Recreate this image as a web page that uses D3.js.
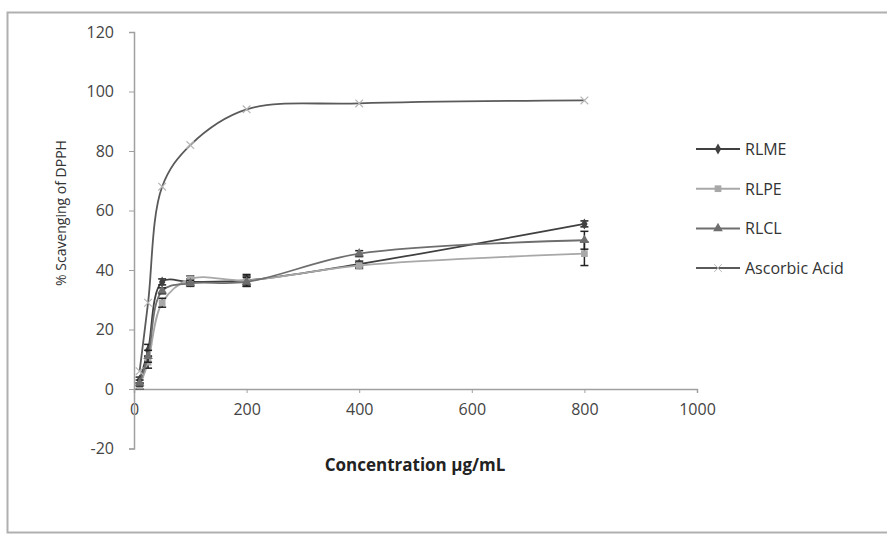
<!DOCTYPE html>
<html>
<head>
<meta charset="utf-8">
<script src="https://cdn.jsdelivr.net/npm/d3@7"></script>
<style>
    body { margin: 0; background: #fff; }
    #chart { width: 887px; height: 535px; }
</style>
</head>
<body>
<div id="chart"></div>
<script>
// concentrations (µg/mL)
var concentrations = [10, 25, 50, 100, 200, 400, 800];

var rlme = [3, 13, 36, 36, 36.5, 42, 55.5];
var rlpe = [1, 9, 29, 37, 36.5, 41.5, 45.5];
var rlcl = [2, 11, 33, 35.5, 36, 45.5, 50];
var ascorbic = [6, 29, 68, 82, 94, 96, 97];

var rlmeErr = [1, 2, 1, 1, 2, 1, 1];
var rlpeErr = [1, 2, 1.5, 1, 1.5, 1, 4];
var rlclErr = [1, 2, 1, 1, 1.5, 1, 3];

var xTicks = [0, 200, 400, 600, 800, 1000];
var yTicks = [-20, 0, 20, 40, 60, 80, 100, 120];

var seriesNames = ["RLME", "RLPE", "RLCL", "Ascorbic Acid"];

Chart = function(_parentElement) {
    this.parentElement = _parentElement;
    this.initVis();
};

Chart.prototype.initVis = function() {
    var vis = this;

    vis.width = 887;
    vis.height = 535;

    vis.svg = d3.select("#" + vis.parentElement)
        .append("svg")
        .attr("width", vis.width)
        .attr("height", vis.height)
        .style("font-family", "'Open Sans', sans-serif");

    // outer frame
    vis.svg.append("rect")
        .attr("x", 7.5)
        .attr("y", 12.5)
        .attr("width", 900)
        .attr("height", 520)
        .attr("fill", "none")
        .attr("stroke", "#b0b0b0")
        .attr("stroke-width", 2);

    vis.x = d3.scaleLinear().domain([0, 1000]).range([134, 697]);
    vis.y = d3.scaleLinear().domain([-20, 120]).range([448.5, 32]);

    vis.series = [
        { name: seriesNames[0], values: rlme, err: rlmeErr, color: "#404040", symbol: d3.symbolDiamond, size: 35, markColor: "#404040" },
        { name: seriesNames[1], values: rlpe, err: rlpeErr, color: "#a8a8a8", symbol: d3.symbolSquare, size: 45, markColor: "#a8a8a8" },
        { name: seriesNames[2], values: rlcl, err: rlclErr, color: "#6e6e6e", symbol: d3.symbolTriangle, size: 40, markColor: "#6e6e6e" },
        { name: seriesNames[3], values: ascorbic, err: null, color: "#5a5a5a", symbol: d3.symbolX, size: 40, markColor: "#b5b5b5" }
    ];

    vis.drawAxes();
    vis.drawSeries();
    vis.drawLegend();
};

Chart.prototype.drawAxes = function() {
    var vis = this;

    var xAxis = d3.axisBottom(vis.x)
        .tickValues(xTicks)
        .tickFormat(function(d) { return String(d); })
        .tickSize(4)
        .tickPadding(11);

    var yAxis = d3.axisLeft(vis.y)
        .tickValues(yTicks)
        .tickFormat(function(d) { return String(d); })
        .tickSize(5)
        .tickPadding(15);

    var gx = vis.svg.append("g")
        .attr("transform", `translate(0,${vis.y(0)})`)
        .call(xAxis);

    var gy = vis.svg.append("g")
        .attr("transform", `translate(${vis.x(0)},0)`)
        .call(yAxis);

    [gx, gy].forEach(function(g) {
        g.select(".domain").attr("stroke", "#a0a0a0").attr("stroke-width", 1.5);
        g.selectAll(".tick line").attr("stroke", "#a0a0a0");
        g.selectAll(".tick text")
            .attr("fill", "#444")
            .attr("font-size", "16px")
            .style("font-family", "'Open Sans', sans-serif");
    });

    // axis titles
    vis.svg.append("text")
        .attr("x", 415)
        .attr("y", 471)
        .attr("text-anchor", "middle")
        .attr("font-size", "17px")
        .attr("font-weight", "bold")
        .attr("fill", "#222")
        .text("Concentration µg/mL");

    vis.svg.append("text")
        .attr("transform", "translate(66,213) rotate(-90)")
        .attr("text-anchor", "middle")
        .attr("font-size", "14px")
        .attr("fill", "#333")
        .text("% Scavenging of DPPH");
};

Chart.prototype.drawSeries = function() {
    var vis = this;

    var line = d3.line()
        .x(function(d, i) { return vis.x(concentrations[i]); })
        .y(function(d) { return vis.y(d); })
        .curve(d3.curveCatmullRom.alpha(0.5));

    vis.series.forEach(function(s) {
        var g = vis.svg.append("g");

        g.append("path")
            .datum(s.values)
            .attr("d", line)
            .attr("fill", "none")
            .attr("stroke", s.color)
            .attr("stroke-width", 1.8);

        if (s.err) {
            s.values.forEach(function(v, i) {
                var cx = vis.x(concentrations[i]);
                g.append("line")
                    .attr("x1", cx).attr("x2", cx)
                    .attr("y1", vis.y(v - s.err[i]))
                    .attr("y2", vis.y(v + s.err[i]))
                    .attr("stroke", "#222")
                    .attr("stroke-width", 1.5);
                [v - s.err[i], v + s.err[i]].forEach(function(e) {
                    g.append("line")
                        .attr("x1", cx - 4).attr("x2", cx + 4)
                        .attr("y1", vis.y(e)).attr("y2", vis.y(e))
                        .attr("stroke", "#222")
                        .attr("stroke-width", 1.5);
                });
            });
        }

        g.selectAll("path.mark")
            .data(s.values)
            .enter()
            .append("path")
            .attr("class", "mark")
            .attr("transform", function(d, i) { return `translate(${vis.x(concentrations[i])},${vis.y(d)})`; })
            .attr("d", d3.symbol().type(s.symbol).size(s.size))
            .attr("fill", s.symbol === d3.symbolX ? "none" : s.markColor)
            .attr("stroke", s.symbol === d3.symbolX ? s.markColor : "none")
            .attr("stroke-width", 1.2);
    });
};

Chart.prototype.drawLegend = function() {
    var vis = this;

    var legend = vis.svg.append("g")
        .attr("transform", "translate(696,149)");

    vis.series.forEach(function(s, i) {
        var row = legend.append("g")
            .attr("transform", `translate(0,${i * 39.7})`);

        row.append("line")
            .attr("x1", 0).attr("x2", 44)
            .attr("stroke", s.color)
            .attr("stroke-width", 2);

        row.append("path")
            .attr("transform", "translate(22,0)")
            .attr("d", d3.symbol().type(s.symbol).size(s.size))
            .attr("fill", s.symbol === d3.symbolX ? "none" : s.markColor)
            .attr("stroke", s.symbol === d3.symbolX ? s.markColor : "none");

        row.append("text")
            .attr("x", 49)
            .attr("y", 6)
            .attr("font-size", "16px")
            .attr("fill", "#333")
            .text(s.name);
    });
};

new Chart("chart");
</script>
</body>
</html>
